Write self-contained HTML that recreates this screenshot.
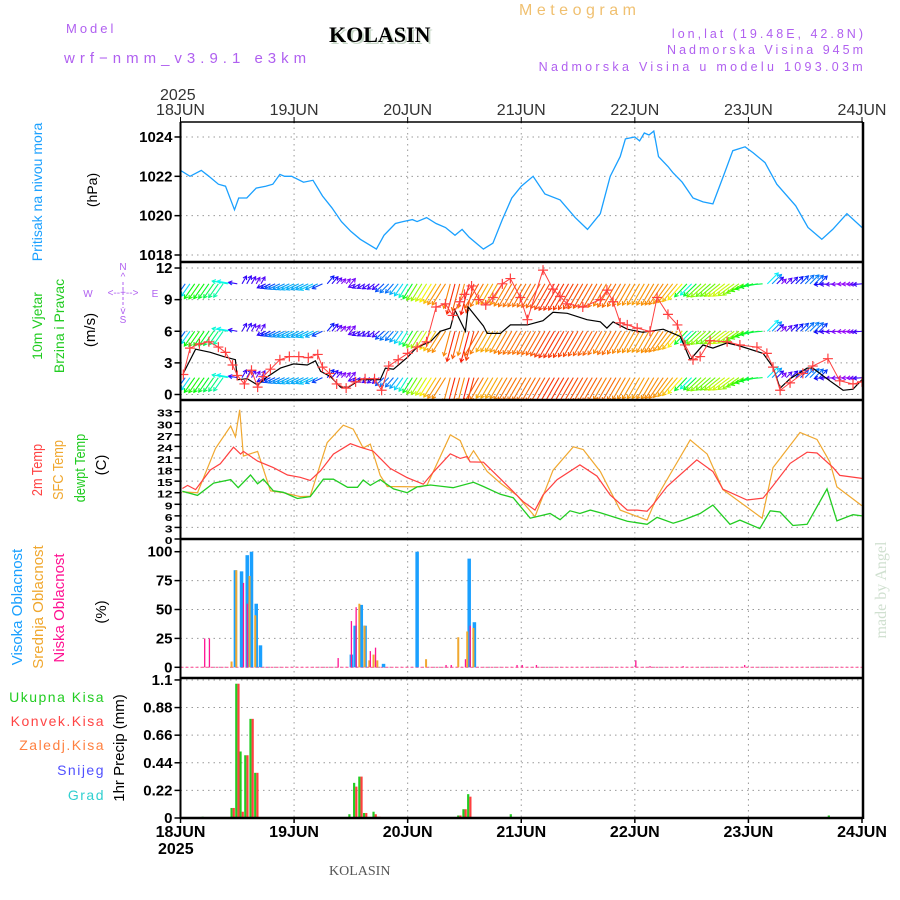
<!DOCTYPE html>
<html><head><meta charset="utf-8"><style>
html,body{margin:0;padding:0;background:#fff;}
svg{display:block;}
text{font-family:"Liberation Sans",sans-serif;}
text.serif{font-family:"Liberation Serif",serif;}
</style></head><body>
<svg id="chart" width="900" height="900" viewBox="0 0 900 900" xmlns="http://www.w3.org/2000/svg">
<rect width="900" height="900" fill="#fff"/>
<g id="gGrid"></g>
<g id="gData"></g>
<g id="gAxes"></g>
<g id="gText">
<text x="66" y="33" font-size="13" fill="#b060f0" letter-spacing="3">Model</text>
<text x="64" y="63" font-size="15" fill="#b060f0" letter-spacing="5">wrf−nmm_v3.9.1 e3km</text>
<text class="serif" x="331" y="44" font-size="22" font-weight="bold" fill="#c8d8c8">KOLASIN</text>
<text class="serif" x="329" y="42" font-size="22" font-weight="bold" fill="#000">KOLASIN</text>
<text x="519" y="15" font-size="16" fill="#f0c070" letter-spacing="4.5">Meteogram</text>
<text x="866" y="38" font-size="12.5" fill="#b060f0" text-anchor="end" letter-spacing="3">lon,lat (19.48E, 42.8N)</text>
<text x="866" y="54" font-size="12.5" fill="#b060f0" text-anchor="end" letter-spacing="3">Nadmorska Visina 945m</text>
<text x="866" y="71" font-size="12.5" fill="#b060f0" text-anchor="end" letter-spacing="3.3">Nadmorska Visina u modelu 1093.03m</text>
<text x="160" y="100" font-size="16" fill="#333">2025</text>
<text x="158" y="854" font-size="16" font-weight="bold" fill="#000">2025</text>
<text class="serif" x="329" y="875" font-size="14" fill="#555">KOLASIN</text>
<text transform="translate(42,192) rotate(-90)" font-size="14" fill="#1aa0ff" text-anchor="middle">Pritisak na nivou mora</text>
<text transform="translate(97,190) rotate(-90)" font-size="14" fill="#000" text-anchor="middle">(hPa)</text>
<text transform="translate(42,326) rotate(-90)" font-size="14" fill="#22cc22" text-anchor="middle">10m Vjetar</text>
<text transform="translate(64,326) rotate(-90)" font-size="14" fill="#22cc22" text-anchor="middle">Brzina i Pravac</text>
<text transform="translate(95,330) rotate(-90)" font-size="15" fill="#000" text-anchor="middle">(m/s)</text>
<g fill="#b060f0" font-size="10" text-anchor="middle">
<text x="123" y="270">N</text><text x="123" y="280">^</text><text x="88" y="297">W</text><text x="155" y="297">E</text>
<text x="123" y="296">&lt;--+--&gt;</text><text x="123" y="314">v</text><text x="123" y="323">S</text>
<line x1="123" y1="282" x2="123" y2="308" stroke="#b060f0" stroke-dasharray="3,2"/>
</g>
<text transform="translate(42,470) rotate(-90) scale(0.85,1)" font-size="15" fill="#ff4444" text-anchor="middle">2m Temp</text>
<text transform="translate(63,470) rotate(-90) scale(0.85,1)" font-size="15" fill="#f0a830" text-anchor="middle">SFC Temp</text>
<text transform="translate(85,468) rotate(-90) scale(0.85,1)" font-size="15" fill="#22cc22" text-anchor="middle">dewpt Temp</text>
<text transform="translate(106,465) rotate(-90)" font-size="15" fill="#000" text-anchor="middle">(C)</text>
<text transform="translate(22,607) rotate(-90)" font-size="15" fill="#1aa0ff" text-anchor="middle">Visoka Oblacnost</text>
<text transform="translate(43,607) rotate(-90)" font-size="15" fill="#f0a830" text-anchor="middle">Srednja Oblacnost</text>
<text transform="translate(64,608) rotate(-90)" font-size="15" fill="#ff1493" text-anchor="middle">Niska Oblacnost</text>
<text transform="translate(106,612) rotate(-90)" font-size="15" fill="#000" text-anchor="middle">(%)</text>
<text x="105" y="702" font-size="14" fill="#22cc22" text-anchor="end" letter-spacing="1.5">Ukupna  Kisa</text>
<text x="105" y="726" font-size="14" fill="#ff4444" text-anchor="end" letter-spacing="1.5">Konvek.Kisa</text>
<text x="105" y="750" font-size="14" fill="#ff8040" text-anchor="end" letter-spacing="1.5">Zaledj.Kisa</text>
<text x="105" y="775" font-size="14" fill="#5050ff" text-anchor="end" letter-spacing="1.5">Snijeg</text>
<text x="105" y="800" font-size="14" fill="#30d0d0" text-anchor="end" letter-spacing="1.5">Grad</text>
<text transform="translate(124,748) rotate(-90)" font-size="15" fill="#000" text-anchor="middle">1hr Precip (mm)</text>
<text class="serif" transform="translate(886,590) rotate(-90)" font-size="16" fill="#d0e0d0" text-anchor="middle">made by Angel</text>
</g>
</svg>
<script>
// ---- data (hours from 18JUN 00UTC) ----
var dayLabels = ["18JUN","19JUN","20JUN","21JUN","22JUN","23JUN","24JUN"];
var presT = [0,2,4.4,6,8,9.5,11.4,12.3,14,16,18,19.5,21,22,23.5,26,28,30,32,34,36,38,41.4,43,45.4,47,49,50,52,54,56,58,59.5,61,63,64,66,68,70,72,74.5,77,80.2,83.4,86,88.7,90.8,92.9,94,96,97,98,99,100,101,103,104,106,108.3,110.4,112.5,115,116.7,119.3,121,123.5,126,130,132.6,135.5,137.8,140.8,144];
var presV = [1022.3,1022.0,1022.3,1022.0,1021.6,1021.5,1020.3,1020.9,1020.9,1021.4,1021.5,1021.6,1022.1,1022.0,1022.0,1021.7,1021.8,1021.0,1020.4,1019.7,1019.2,1018.8,1018.3,1019.0,1019.6,1019.7,1019.8,1019.7,1019.9,1019.6,1019.4,1019.0,1019.3,1018.9,1018.5,1018.3,1018.6,1019.8,1020.9,1021.5,1022.0,1021.1,1020.8,1019.9,1019.3,1020.1,1022.0,1023.0,1023.9,1024.0,1023.8,1024.2,1024.1,1024.3,1023.0,1022.5,1022.2,1021.7,1020.9,1020.7,1020.6,1022.2,1023.3,1023.5,1023.2,1022.7,1021.6,1020.5,1019.4,1018.8,1019.3,1020.1,1019.4];
var windT = [0.6,3.2,6.3,9.1,11.6,12,14.1,16.3,18.4,21.1,23.9,26.8,28.5,29.6,31.7,33.8,35.5,38,42.2,43.3,45,47.9,50,52.8,54.9,57,58,60.2,60.8,64,64.8,67.6,69.7,73.3,76.6,78.7,81.7,85.9,88.7,90.1,91.4,94.4,97.7,102,105.6,107.7,110.4,112.5,115.5,118.2,123.1,125.2,126.7,128.8,132.4,133.6,137.2,140,142.1,144];
var windV = [2.0,4.3,4.0,3.6,3.3,1.4,1.5,0.9,1.7,2.5,2.9,2.8,3.2,2.2,1.7,0.7,0.7,1.4,1.4,2.5,2.4,3.5,4.5,5.0,6.0,6.3,8.0,6.0,8.3,6.5,5.8,5.8,6.6,6.6,7.0,7.8,7.7,7.1,6.9,6.3,6.9,6.2,5.9,6.2,5.5,3.3,4.7,4.4,4.9,4.6,3.9,2.6,0.6,1.5,2.5,2.5,1.3,0.4,0.5,1.4];
var gustT = [0.6,2,4,6,8,9.5,11,12,13.5,15,16.3,17.5,19,21,23,25,27,29,30,31.5,33,35,37,39,41,42.5,44,46,48,50,52,54,56,57.5,59,60,61.5,63,64.5,66,68,69.7,71.8,73.3,76.6,78.7,80.2,81.7,85,88.7,90.1,91.4,92.9,94.4,96.5,99.2,100.7,103,105,106.6,108.3,109.8,111.9,115.5,118.2,121.8,123.9,125.2,126.7,128.8,131.5,133.6,136.8,139.3,142.1,144];
var gustV = [1.9,4.4,4.8,5.0,4.5,4.0,2.8,1.8,1.0,2.3,0.7,1.7,2.4,3.3,3.6,3.6,3.5,3.8,2.6,2.0,1.0,0.6,1.2,1.5,1.5,0.4,2.7,3.3,3.9,4.5,5.0,8.3,8.6,7.5,8.8,9.5,10.3,9.0,8.5,9.2,10.5,11.0,9.2,7.1,11.8,10.0,9.3,8.6,8.3,9.0,9.9,8.8,6.8,6.6,6.3,6.0,9.2,7.6,6.6,4.7,3.3,3.6,5.1,5.0,4.7,4.5,3.9,2.6,0.4,1.1,2.0,2.7,3.4,1.3,1.0,1.2];
var dirT = [0,9,10,12,13,17,18,30,31,36,37,42,48,56,57,62,63,100,104,108,118,123,124,135,136,144];
var dirV = [235,235,170,170,60,60,205,205,50,50,205,220,238,238,255,255,240,240,232,225,215,185,45,45,185,185];
var windRows = [10.5,6.0,1.6];
var t2T = [0.4,1.5,3.2,6.3,8.4,11.2,12.7,13.3,16.3,19.6,22.6,25.3,27.4,29.6,32.3,35.9,38,40.7,44.3,47.9,51.3,53.4,57,59.1,60.6,61.2,64,67.6,70.3,72.4,74.9,76.6,79.6,84.4,88,90.8,94.4,96.5,98.6,99.9,102.8,109.1,112.5,114.6,119.7,123.1,125.2,128.8,132.4,134.5,137.9,139.3,144];
var t2V = [13.1,13.9,12.8,17.9,19.5,23.8,22.0,22.7,20.2,18.5,16.6,16.0,15.2,17.7,22,24.7,23.8,22.8,18.3,15.9,14.2,17.3,22.1,20.9,21.4,20,19.9,15.6,12.3,9.7,7.5,11.4,15.4,19.2,16.3,11.4,7.5,7.5,7.2,9,13.6,20.5,17.5,12.9,10.1,10.6,13.8,19.6,22.5,22.3,18.5,16.5,15.7];
var sfcT = [0.4,3.6,7.4,10.6,11.6,12.5,13.3,16.3,19,21.7,25.3,27.4,31,34.4,36.5,38.6,40.1,42.2,43.7,50.7,52.1,57,59.1,60.8,61.9,64.8,67.6,71.1,74.9,78.7,83,85.1,88.7,92.9,98.6,100.7,107.7,111.3,114.6,122.9,125.2,130.9,134.5,137.2,138.7,144];
var sfcV = [12.2,12.0,23.5,29.3,26.5,33.5,21.5,22.7,12.5,12.0,11,11.1,25,29.5,28.5,23.6,24.6,16.5,13.6,13.5,14,27,25.5,20.7,22.9,17.5,14.5,11.3,5.8,17.8,23.9,23.2,17.5,7.5,4.9,11,25.7,22,12.8,5.4,18.5,27.6,25.8,20,13.5,8.6];
var dewT = [0.4,3.6,7,10.6,12.2,14.8,16.3,17.5,19.6,21.7,24.7,27.4,30.2,32.3,35.3,37.4,38.6,40.1,42.2,45,47.9,50,52.8,55.5,57.6,61.9,64,67.6,70.3,73.9,78.1,80.2,82.3,84.4,86.6,88.7,94.4,98.6,100.7,104.1,106.2,109.8,112.5,116.1,118.2,122.4,124.6,126.7,129.4,132.4,136.6,138.7,142.1,144];
var dewV = [12.4,11.3,14.5,15.4,13.3,16.6,14.3,15.5,12.5,12.1,10.5,11.0,15.5,15.5,13.4,13.4,15.3,13.9,15.4,13,12,13.5,14,13.6,13.3,14.7,13.6,11.6,10.7,5.4,6.6,5,7.3,6.6,7.5,6.8,4.6,3.8,5.6,4.1,4.9,6.6,8.8,3.8,4.9,2.7,7.3,7,3.5,3.8,13,4.7,6.3,6];
var highT = [11.6,12.9,14.1,15,16,16.9,36.1,36.9,38.2,39,42.9,50,61,62.1];
var highV = [84,83,97,100,55,19,11,36,54,36,3,100,94,39];
var midT = [11,12,14.8,16,38,39.1,40.1,41,41.8,52.1,58.9,60.8,62.1];
var midV = [5,84,79,45,55,36,6,11,6,7,26,31,34];
var lowT = [4.9,5.9,13.1,13.9,33.1,35.9,36.9,39.9,41,55.9,57,60,61,70.9,72,75,96,99,106,119];
var lowV = [25,25,73,55,8,40,52,14,17,2,2,7,36,2,2,2,6,1,1,2];
var rainT = [4.9,11,12,12.9,13.9,15,16,35.9,36.9,38,39,41,41.8,58.9,60,61,70,137.2];
var totalV = [0.01,0.08,1.07,0.53,0.5,0.79,0.36,0.03,0.28,0.33,0.04,0.05,0.01,0.02,0.07,0.19,0.03,0.02];
var convV = [0,0.08,1.07,0.05,0.5,0.79,0.36,0,0.25,0.33,0.04,0.03,0.01,0.02,0.07,0.17,0,0];
var presTicks = [1018,1020,1022,1024];
var windTicks = [0,3,6,9,12];
var tempTicks = [0,3,6,9,12,15,18,21,24,27,30,33];
var cloudTicks = [0,25,50,75,100];
var rainTicks = [0,0.22,0.44,0.66,0.88,1.1];

// ---- scales ----
var X0 = 180.5, X1 = 862;
function X(t){ return X0 + t*(X1-X0)/144; }
function yP(v){ return 255 - (v-1018)*19.67; }
function yW(v){ return 394.5 - v*10.54; }
function yT(v){ return 539 - v*3.857; }
function yC(v){ return 667.3 - v*1.156; }
function yR(v){ return 818 - v*125.5; }
var panels = [{top:122,bot:262,f:yP,ticks:presTicks,fmt:function(v){return v;}},
              {top:262,bot:400,f:yW,ticks:windTicks,fmt:function(v){return v;}},
              {top:400,bot:539,f:yT,ticks:tempTicks,fmt:function(v){return v;}},
              {top:539,bot:678,f:yC,ticks:cloudTicks,fmt:function(v){return v;}},
              {top:678,bot:818,f:yR,ticks:rainTicks,fmt:function(v){return v===0?"0":String(v);}}];
var NS = "http://www.w3.org/2000/svg";
function mk(tag, attrs, parent){ var e=document.createElementNS(NS,tag); for(var k in attrs) e.setAttribute(k,attrs[k]); parent.appendChild(e); return e; }
var gGrid=document.getElementById('gGrid'), gData=document.getElementById('gData'), gAxes=document.getElementById('gAxes');
function interp(ts, vs, t){ if(t<=ts[0]) return vs[0]; for(var i=1;i<ts.length;i++){ if(t<=ts[i]){ var a=(t-ts[i-1])/(ts[i]-ts[i-1]); return vs[i-1]+a*(vs[i]-vs[i-1]); } } return vs[vs.length-1]; }

var defs = mk('defs',{},document.getElementById('chart'));
panels.forEach(function(p,i){ var c=mk('clipPath',{id:'clip'+i},defs); mk('rect',{x:X0,y:p.top,width:X1-X0,height:p.bot-p.top},c); });

panels.forEach(function(p,i){
  for(var d=1; d<6; d++){
    var gl = mk('line',{x1:X(d*24),x2:X(d*24),y1:p.top,y2:p.bot,stroke:'#999','stroke-dasharray':'1.5,4'},gGrid);
    
    
  }
  p.ticks.forEach(function(v){
    var y=p.f(v);
    var hl = mk('line',{x1:X0,x2:X1,y1:y,y2:y,stroke:'#999','stroke-dasharray':'1.5,4'},gGrid);
    
    
    var tk = mk('line',{x1:X0-6,x2:X0,y1:y,y2:y,stroke:'#000','stroke-width':1.5},gAxes);
    
    
    var lb = mk('text',{x:X0-8,y:y+5,'font-size':(i===2?14:15),'text-anchor':'end',fill:'#000','font-weight':'bold'},gAxes);
    if(i===2){ lb.setAttribute('transform','translate('+(X0-8)+','+(y+5)+') scale(1,0.75) translate('+(-(X0-8))+','+(-(y+5))+')'); }
    
    
    lb.textContent = p.fmt(v);
  });
});

function polyline(ts, vs, f, color, w, clip, name){
  var pts = ts.map(function(t,i){ return X(t).toFixed(1)+','+f(vs[i]).toFixed(1); }).join(' ');
  var pl = mk('polyline',{points:pts,fill:'none',stroke:color,'stroke-width':w,'clip-path':'url(#clip'+clip+')'},gData);
  
  
  return pl;
}
polyline(presT, presV, yP, '#1aa0ff', 1.3, 0, 'pressure-line');

function speedHue(s){
  var hs=[[0.5,275],[1.5,250],[2.5,210],[3.3,185],[4,130],[5,60],[6,35],[7,22],[8,8],[9,-15],[11,-35]];
  return interp(hs.map(function(a){return a[0];}), hs.map(function(a){return a[1];}), s);
}
var gW = mk('g',{'clip-path':'url(#clip1)'},gData);


for(var h=0; h<=144; h++){
  var s = interp(windT, windV, h), dg = interp(dirT, dirV, h);
  var col = 'hsl('+((speedHue(s)+360)%360).toFixed(0)+',95%,50%)';
  var L = 4 + 3.4*s, a = dg*Math.PI/180;
  windRows.forEach(function(r){
    var x1=X(h), y1=yW(r), x2=x1+L*Math.cos(a), y2=y1-L*Math.sin(a);
    var ar = mk('line',{x1:x1,y1:y1,x2:x2,y2:y2,stroke:col,'stroke-width':1.1},gW);
    
    
    var hx1=x2+4*Math.cos(a+2.6), hy1=y2-4*Math.sin(a+2.6), hx2=x2+4*Math.cos(a-2.6), hy2=y2-4*Math.sin(a-2.6);
    var hd = mk('polyline',{points:hx1+','+hy1+' '+x2+','+y2+' '+hx2+','+hy2,fill:'none',stroke:col,'stroke-width':1.1},gW);
    
    
  });
}
polyline(windT, windV, yW, '#000', 1.2, 1, 'wind-speed-line');
polyline(gustT, gustV, yW, '#ff4040', 1, 1, 'wind-gust-line');
var gG = mk('g',{'clip-path':'url(#clip1)',stroke:'#ff4040','stroke-width':1.2},gData);


gustT.forEach(function(t,i){
  var x=X(t), y=yW(gustV[i]);
  var m = mk('path',{d:'M'+(x-5)+' '+y+'H'+(x+5)+'M'+x+' '+(y-5)+'V'+(y+5)},gG);
  
  
});

polyline(sfcT, sfcV, yT, '#f0a830', 1.2, 2, 'sfc-temp-line');
polyline(t2T, t2V, yT, '#ff4040', 1.2, 2, '2m-temp-line');
polyline(dewT, dewV, yT, '#22cc22', 1.3, 2, 'dewpoint-line');

var base = mk('line',{x1:X0,x2:X1,y1:yC(0),y2:yC(0),stroke:'#ff60a0','stroke-width':1.2,'stroke-dasharray':'3,2'},gData);


function bars(ts, vs, f, color, w, off, name){
  ts.forEach(function(t,i){
    var y=f(vs[i]), y0=f(0);
    var b = mk('rect',{x:X(t)+off-w/2,y:y,width:w,height:Math.max(0.5,y0-y),fill:color},gData);
    
    
  });
}
bars(highT, highV, yC, '#1aa0ff', 3.5, 0, 'high-cloud-bar');
bars(midT, midV, yC, '#f0a830', 2, -1, 'mid-cloud-bar');
bars(lowT, lowV, yC, '#ff1493', 1.3, 1, 'low-cloud-bar');

bars(rainT, totalV, yR, '#22cc22', 2.2, -1, 'total-precip-bar');
bars(rainT, convV, yR, '#ff4040', 2.2, 1.2, 'convective-precip-bar');

panels.forEach(function(p,i){
  var top = mk('line',{x1:X0,x2:X1+1,y1:p.top,y2:p.top,stroke:'#000','stroke-width':(i===0?1.5:2.5)},gAxes);
  
  
});
var bot = mk('line',{x1:X0,x2:X1+1,y1:818,y2:818,stroke:'#000','stroke-width':2.5},gAxes);


var lft = mk('line',{x1:X0,x2:X0,y1:122,y2:819,stroke:'#000','stroke-width':2},gAxes);


var rgt = mk('line',{x1:X1+1,x2:X1+1,y1:122,y2:819,stroke:'#000','stroke-width':2.5},gAxes);


dayLabels.forEach(function(d,i){
  var x=X(i*24);
  var t1 = mk('text',{x:x,y:115,'font-size':16,'text-anchor':'middle',fill:'#333'},gAxes);
  
  
  t1.textContent=d;
  var tk = mk('line',{x1:x,x2:x,y1:117,y2:123,stroke:'#000'},gAxes);
  
  
  var t2 = mk('text',{x:x,y:837,'font-size':16,'text-anchor':'middle',fill:'#000','font-weight':'bold'},gAxes);
  
  
  t2.textContent=d;
  var tb = mk('line',{x1:x,x2:x,y1:818,y2:823,stroke:'#000','stroke-width':1.5},gAxes);
  
  
});
</script>
</body></html>
